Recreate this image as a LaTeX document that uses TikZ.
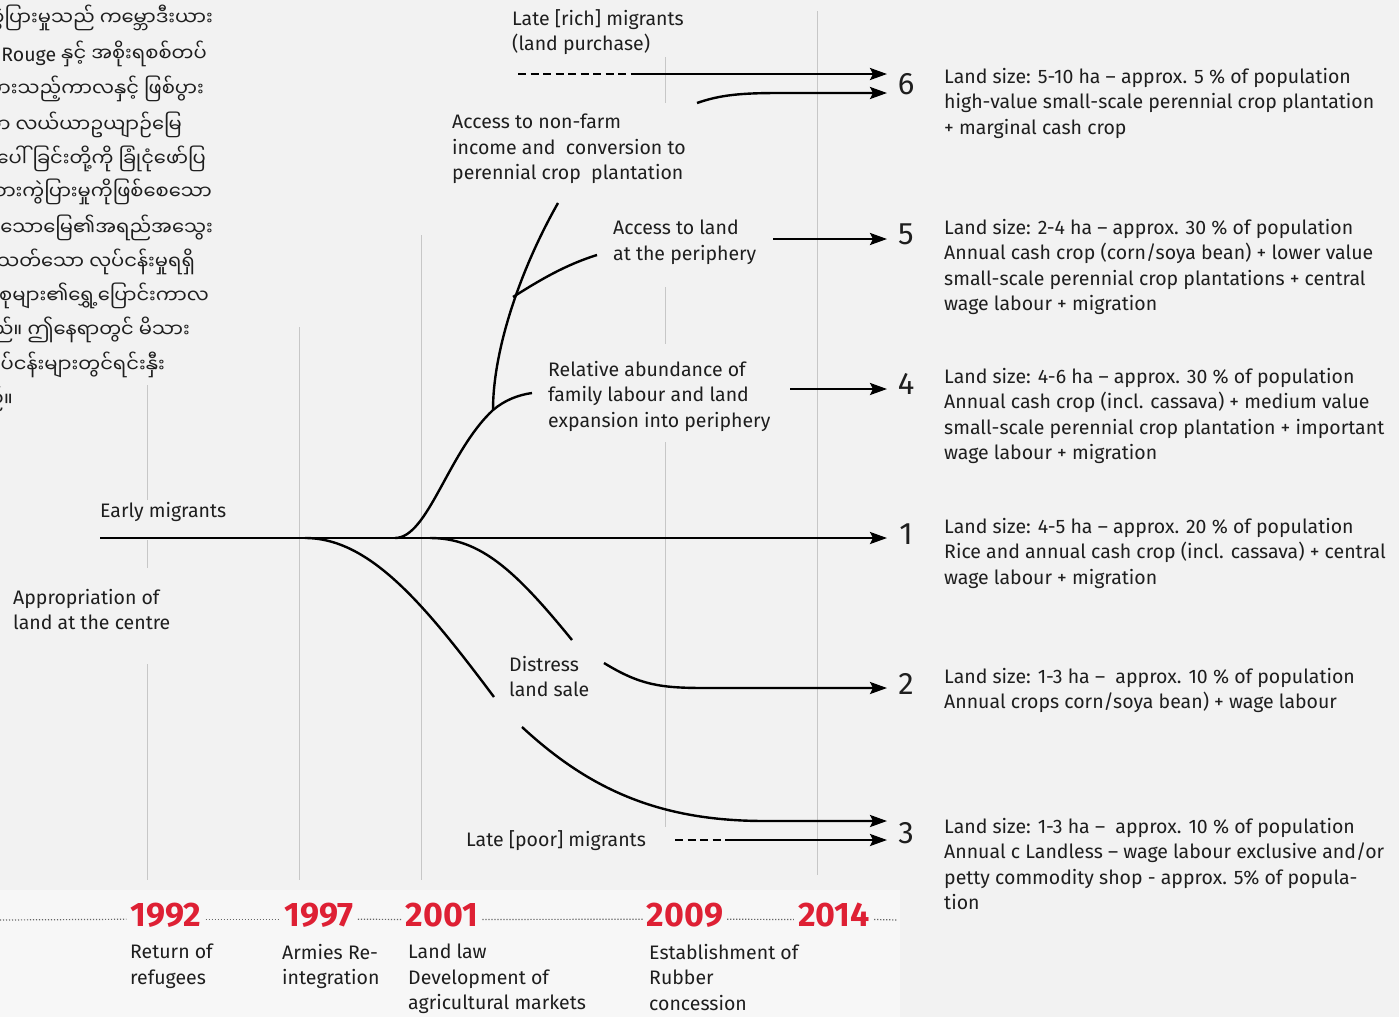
\documentclass[tikz,border=0pt]{standalone}
\usepackage{fontspec}
\setmainfont{Fira Sans}
\newfontfamily\latinfont{Fira Sans}
\newfontfamily\mmfont[Script=Myanmar]{Noto Sans Myanmar UI}
\usetikzlibrary{arrows.meta}
\definecolor{bgcol}{RGB}{242,242,242}
\definecolor{yearred}{RGB}{222,32,52}
\definecolor{txt}{RGB}{30,30,30}
\begin{document}
\begin{tikzpicture}[x=1pt,y=-1pt,
  flow/.style={line width=2.4pt, draw=black},
  arr/.style={flow, -{Stealth[length=17pt,width=12pt,inset=3pt]}},
  dsh/.style={line width=2.4pt, draw=black, dash pattern=on 8pt off 4.5pt},
  vline/.style={line width=1pt, draw=black!22},
  tline/.style={line width=1.2pt, draw=black!60, dash pattern=on 1.2pt off 1.8pt},
  lbl/.style={font=\fontsize{19.5}{25.4}\selectfont, align=left, anchor=north west, inner sep=0pt, text=txt},
  num/.style={font=\fontsize{31}{31}\selectfont, inner sep=0pt, text=txt},
  year/.style={font=\bfseries\fontsize{34}{34}\selectfont, text=yearred, inner xsep=4pt, inner ysep=0pt},
  mm/.style={font=\mmfont\fontsize{19.5}{30}\selectfont, anchor=base east, inner sep=0pt, text=txt}
]
\useasboundingbox (0,0) rectangle (1399,1017);
\clip (0,0) rectangle (1399,1017);
\fill[bgcol] (0,0) rectangle (1399,1017);
\fill[white!40!bgcol] (0,890) rectangle (900,1017);

% Burmese text (cropped at left edge)
\node[mm] (m1) at (213,25) {ကွဲပြားမှုသည် ကမ္ဘောဒီးယား};
\node[mm] (m2) at (207,61) {{\latinfont Khmer Rouge} နှင့် အစိုးရစစ်တပ်};
\node[mm] (m3) at (204,96) {ပွားသည့်ကာလနှင့် ဖြစ်ပွား};
\node[mm] (m4) at (182,132) {သော လယ်ယာဥယျာဉ်မြေ};
\node[mm] (m5) at (206,166) {ဖြစ်ပေါ်ခြင်းတို့ကို ခြုံငုံဖော်ပြ};
\node[mm] (m6) at (212,199) {အမျိုးအစားကွဲပြားမှုကိုဖြစ်စေသော};
\node[mm] (m7) at (213,235) {ရှိသောမြေ၏အရည်အသွေး};
\node[mm] (m8) at (195,269) {သတ်သော လုပ်ငန်းမှုရရှိ};
\node[mm] (m9) at (209,303) {မိသားစုများ၏ရွှေ့ပြောင်းကာလ};
\node[mm] (m10) at (190,337) {ပါသည်။ ဤနေရာတွင် မိသား};
\node[mm] (m11) at (165,372) {လုပ်ငန်းများတွင်ရင်းနှီး};
\node[mm] (m12) at (13,406) {ပါသည်။};

% vertical guide lines
\draw[vline] (147,385) -- (147,500) (147,540) -- (147,568) (147,664) -- (147,880);
\draw[vline] (299,327) -- (299,880);
\draw[vline] (421,235) -- (421,880);
\draw[vline] (665,57) -- (665,103) (665,287) -- (665,344) (665,442) -- (665,827);
\draw[vline] (817,11) -- (817,875);

% timeline
\node[year] (y1992) at (166,915) {1992};
\node[year] (y1997) at (319,915) {1997};
\node[year] (y2001) at (442,915) {2001};
\node[year] (y2009) at (685,915) {2009};
\node[year] (y2014) at (834,915) {2014};
\coordinate (tl0) at (0,920);
\coordinate (tl1) at (898,920);
\draw[tline] (tl0) -- ([yshift=7pt]y1992.base west);
\draw[tline] ([yshift=7pt]y1992.base east) -- ([yshift=7pt]y1997.base west);
\draw[tline] ([yshift=7pt]y1997.base east) -- ([yshift=7pt]y2001.base west);
\draw[tline] ([yshift=7pt]y2001.base east) -- ([yshift=7pt]y2009.base west);
\draw[tline] ([yshift=7pt]y2009.base east) -- ([yshift=7pt]y2014.base west);
\draw[tline] ([yshift=7pt]y2014.base east) -- (tl1);

\node[lbl] (e1992) at (130,944) {Return of\\refugees};
\node[lbl] (e1997) at (282,944) {Armies Re-\\integration};
\node[lbl] (e2001) at (408,944) {Land law\\Development of\\agricultural markets};
\node[lbl] (e2009) at (649,944) {Establishment of\\Rubber\\concession};

% labels
\node[lbl] (lrich) at (512,9) {Late [rich] migrants\\(land purchase)};
\node[lbl] (lnonfarm) at (452,114) {Access to non-farm\\income and\ \ conversion to\\perennial crop\ \ plantation};
\node[lbl] (lperi) at (613,220) {Access to land\\at the periphery};
\node[lbl] (labund) at (548,361) {Relative abundance of\\family labour and land\\expansion into periphery};
\node[lbl] (learly) at (100,502) {Early migrants};
\node[lbl] (lapprop) at (13,589) {Appropriation of\\land at the centre};
\node[lbl] (ldistress) at (509,656) {Distress\\land sale};
\node[lbl] (lpoor) at (466,830) {Late [poor] migrants};

% outcome numbers
\node[num] (n6) at (906,84) {6};
\node[num] (n5) at (906,234) {5};
\node[num] (n4) at (906,384) {4};
\node[num] (n1) at (906,534) {1};
\node[num] (n2) at (906,684) {2};
\node[num] (n3) at (906,833) {3};

% descriptions
\node[lbl] (d6) at (944,68) {Land size: 5-10 ha -- approx. 5 \% of population\\high-value small-scale perennial crop plantation\\+ marginal cash crop};
\node[lbl] (d5) at (944,219) {Land size: 2-4 ha -- approx. 30 \% of population\\Annual cash crop (corn/soya bean) + lower value\\small-scale perennial crop plantations + central\\wage labour + migration};
\node[lbl] (d4) at (944,368) {Land size: 4-6 ha -- approx. 30 \% of population\\Annual cash crop (incl. cassava) + medium value\\small-scale perennial crop plantation + important\\wage labour + migration};
\node[lbl] (d1) at (944,518) {Land size: 4-5 ha -- approx. 20 \% of population\\Rice and annual cash crop (incl. cassava) + central\\wage labour + migration};
\node[lbl] (d2) at (944,668) {Land size: 1-3 ha --\ \ approx. 10 \% of population\\Annual crops corn/soya bean) + wage labour};
\node[lbl] (d3) at (944,818) {Land size: 1-3 ha --\ \ approx. 10 \% of population\\Annual c Landless -- wage labour exclusive and/or\\petty commodity shop - approx. 5\% of popula-\\tion};

% coordinates for flows
\coordinate (s1) at (100,538);
\coordinate (t1) at (887,538);
\coordinate (b1) at (305,538);
\coordinate (b1e) at (494,697);
\coordinate (b2) at (430,538);
\coordinate (b2e) at (572,640);
\coordinate (u0) at (395,538);
\coordinate (j1) at (493,410);
\coordinate (j1e) at (532,393);
\coordinate (j2) at (513,297);
\coordinate (j2e) at (597,255);
\coordinate (topend) at (558,203);
\coordinate (a6d) at (518,74);
\coordinate (a6s) at (632,74);
\coordinate (t6a) at (887,74);
\coordinate (a6b) at (697,103);
\coordinate (t6b) at (887,93);
\coordinate (a5) at (773,239);
\coordinate (t5) at (887,239);
\coordinate (a4) at (790,389);
\coordinate (t4) at (887,389);
\coordinate (a2) at (604,663);
\coordinate (t2) at (887,688);
\coordinate (a3) at (522,727);
\coordinate (t3a) at (887,821);
\coordinate (a3d) at (675,840);
\coordinate (a3s) at (728,840);
\coordinate (t3b) at (887,840);

% flows
\draw[arr] (s1) -- (t1);
\draw[flow] (b1) .. controls (370,538) and (425,605) .. (b1e);
\draw[flow] (b2) .. controls (480,538) and (515,570) .. (b2e);
\draw[flow] (u0) .. controls (428,538) and (448,452) .. (j1) .. controls (505,400) and (518,395) .. (j1e);
\draw[flow] (j1) .. controls (493,350) and (520,270) .. (topend);
\draw[flow] (j2) .. controls (540,280) and (565,265) .. (j2e);

\draw[dsh] (a6d) -- (a6s);
\draw[arr] (a6s) -- (t6a);
\draw[arr] (a6b) .. controls (720,95) and (740,93) .. (780,93) -- (t6b);
\draw[arr] (a5) -- (t5);
\draw[arr] (a4) -- (t4);
\draw[arr] (a2) .. controls (640,685) and (660,688) .. (705,688) -- (t2);
\draw[arr] (a3) .. controls (590,790) and (660,821) .. (765,821) -- (t3a);
\draw[dsh] (a3d) -- (a3s);
\draw[arr] (a3s) -- (t3b);
\end{tikzpicture}
\end{document}
